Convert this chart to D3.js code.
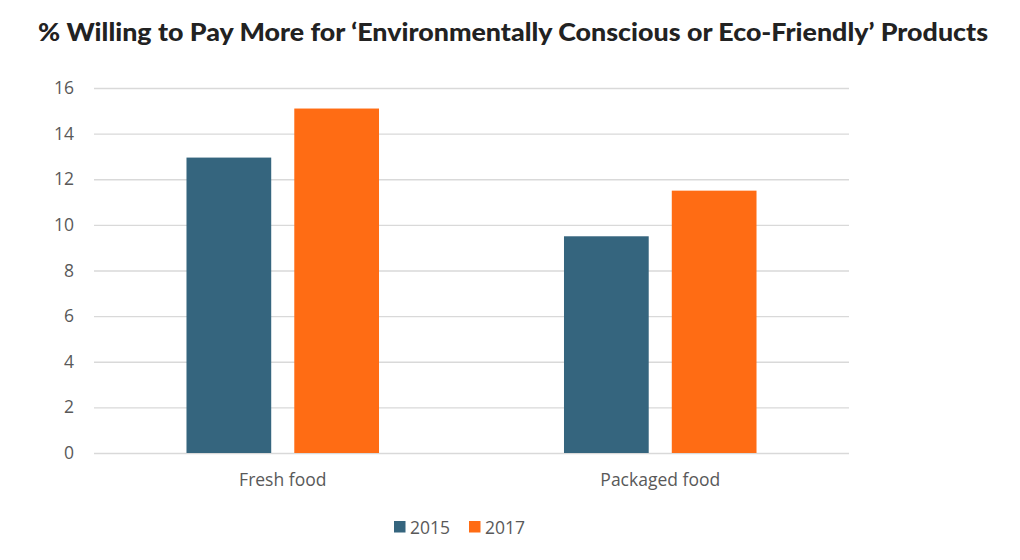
<!DOCTYPE html>
<html><head><meta charset="utf-8">
<script src="https://cdn.jsdelivr.net/npm/d3@7"></script>
<style>body{margin:0;background:#fff;} svg{display:block;}</style>
</head><body>
<svg id="c" width="1020" height="560"></svg>
<script>
const categories = ["Fresh food", "Packaged food"];
const seriesNames = ["2015", "2017"];
const values2015 = [12.95, 9.5];
const values2017 = [15.1, 11.5];
const yTicks = [0, 2, 4, 6, 8, 10, 12, 14, 16];
const colors = ["#35657e", "#ff6c14"];
const title = "% Willing to Pay More for \u2018Environmentally Conscious or Eco-Friendly\u2019 Products";

const data = categories.map((c, i) => ({cat: c, vals: [values2015[i], values2017[i]]}));
const svg = d3.select("#c");
const m = {left: 94, right: 849, top: 88, bottom: 453};
const y = d3.scaleLinear().domain([0, 16]).range([m.bottom, m.top]);
const x0 = d3.scaleBand().domain(categories).range([m.left, m.right]).paddingInner(0.49).paddingOuter(0.245);
const x1 = d3.scaleBand().domain(seriesNames).range([0, x0.bandwidth()]).paddingInner(0.214);

svg.append("text").attr("x", 38).attr("y", 41).attr("text-anchor", "start")
  .attr("font-family", "Lato").attr("font-weight", 900).attr("font-size", 25).attr("fill", "#222")
  .attr("textLength", 950).attr("lengthAdjust", "spacingAndGlyphs")
  .text(title);

// grid
svg.append("g").selectAll("line").data(yTicks).join("line")
  .attr("x1", m.left).attr("x2", m.right)
  .attr("y1", d => y(d) + 0.5).attr("y2", d => y(d) + 0.5)
  .attr("stroke", "#d9d9d9").attr("stroke-width", 1.3);

// y axis labels
const yAxis = d3.axisLeft(y).tickValues(yTicks).tickSize(0).tickPadding(0);
const ya = svg.append("g").attr("transform", `translate(74,0)`).call(yAxis);
ya.select(".domain").remove();
ya.selectAll("text").attr("font-family", "Open Sans").attr("font-size", 17.5).attr("fill", "#595959");

// bars
const g = svg.append("g").selectAll("g").data(data).join("g")
  .attr("transform", d => `translate(${x0(d.cat)},0)`);
g.selectAll("rect").data(d => d.vals.map((v, i) => ({s: seriesNames[i], v, i}))).join("rect")
  .attr("x", d => x1(d.s)).attr("width", x1.bandwidth())
  .attr("y", d => y(d.v)).attr("height", d => y(0) - y(d.v))
  .attr("fill", d => colors[d.i]);

// x axis labels
const xAxis = d3.axisBottom(x0).tickSize(0).tickPadding(0);
const xa = svg.append("g").attr("transform", `translate(0,${m.bottom + 21})`).call(xAxis);
xa.select(".domain").remove();
xa.selectAll("text").attr("font-family", "Open Sans").attr("font-size", 17.5).attr("fill", "#595959");

// legend
const leg = svg.append("g").attr("transform", "translate(394,521)");
const lx = [0, 75];
seriesNames.forEach((s, i) => {
  const gi = leg.append("g").attr("transform", `translate(${lx[i]},0)`);
  gi.append("rect").attr("width", 11.5).attr("height", 11.5).attr("fill", colors[i]);
  gi.append("text").attr("x", 16).attr("y", 12.5).attr("font-family", "Open Sans").attr("font-size", 17.5)
    .attr("fill", "#595959").text(s);
});
</script>
</body></html>
